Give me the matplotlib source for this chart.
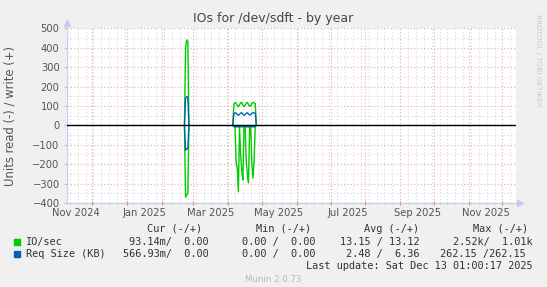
"""Munin style 'IOs for /dev/sdft - by year' chart."""

from datetime import datetime

import matplotlib
matplotlib.use("Agg")
import matplotlib.dates as mdates
import matplotlib.pyplot as plt
from matplotlib.transforms import blended_transform_factory

W, H = 547, 287
NAN = float("nan")

# ---- data (read values stored as magnitudes, drawn below zero) ----
# a NaN entry marks the stretch without samples between the two bursts
DATES = (["2025-02-21", "2025-02-22", "2025-02-23", "2025-02-24", "2025-02-25",
          "2025-03-15", "2025-04-05"]
         + [f"2025-04-{d:02d}" for d in range(6, 26)]
         + ["2025-04-26"])
IO_WRITE = ([0, 400, 440, 430, 0, NAN, 0]
            + [110, 118, 114, 102, 96, 106, 116, 118, 106, 96,
               104, 114, 118, 108, 98, 102, 114, 118, 116, 112]
            + [0])
IO_READ = ([0, 370, 358, 350, 0, NAN, 0]
           + [6, 8, 190, 220, 342, 10, 150, 230, 282, 8,
              10, 190, 250, 296, 8, 10, 200, 272, 180, 8]
           + [0])
REQ_WRITE = ([0, 140, 148, 145, 0, NAN, 0]
             + [60, 65, 63, 56, 52, 57, 63, 65, 58, 52,
                55, 62, 65, 59, 53, 55, 62, 65, 64, 62]
             + [0])
REQ_READ = ([0, 128, 122, 118, 0, NAN, 0]
            + [6, 7, 8, 7, 9, 6, 7, 8, 7, 6,
               7, 8, 7, 9, 6, 7, 8, 7, 8, 6]
            + [0])

X_START = datetime(2024, 11, 8, 1, 0)
X_END = datetime(2025, 12, 13, 1, 0)
Y_MIN, Y_MAX = -400, 500
MONTH_LABELS = ["Nov 2024", "Jan 2025", "Mar 2025", "May 2025",
                "Jul 2025", "Sep 2025", "Nov 2025"]
LABEL_DATES = ["2024-11-16", "2025-01-16", "2025-03-16", "2025-05-16",
               "2025-07-16", "2025-09-16", "2025-11-16"]

LEGEND_NAMES = ["IO/sec", "Req Size (KB)"]
LEGEND_COLORS = ["#00CC00", "#0066B3"]
CUR = ["93.14m/  0.00", "566.93m/  0.00"]
MIN = ["0.00 /  0.00", "0.00 /  0.00"]
AVG = ["13.15 / 13.12", "2.48 /  6.36"]
MAX = ["2.52k/  1.01k", "262.15 /262.15"]

GREEN, BLUE = LEGEND_COLORS
AXIS_COL = "#C8C8F0"
MAJOR_COL = "#F0A8A8"
MINOR_COL = "#D8D8D8"
TEXT_COL = "#555555"


def px(x, y):
    return x / W, 1 - y / H


fig = plt.figure(figsize=(W / 100, H / 100), dpi=100, facecolor="#F0F0F0")
left, top, right, bottom = 66.5, 28.3, 516.0, 203.0
ax = fig.add_axes([left / W, 1 - bottom / H, (right - left) / W, (bottom - top) / H])
ax.set_facecolor("white")

dates = [datetime.fromisoformat(d) for d in DATES]
ax.plot(dates, IO_WRITE, color=GREEN, lw=1.0, zorder=3)
ax.plot(dates, [-v for v in IO_READ], color=GREEN, lw=1.0, zorder=3)
ax.plot(dates, REQ_WRITE, color=BLUE, lw=1.0, zorder=4)
ax.plot(dates, [-v for v in REQ_READ], color=BLUE, lw=1.0, zorder=4)
ax.axhline(0, color="black", lw=1.0, zorder=5)

ax.set_xlim(X_START, X_END)
ax.set_ylim(Y_MIN, Y_MAX)

# grid
ax.xaxis.set_major_locator(mdates.MonthLocator())
ax.xaxis.set_minor_locator(mdates.WeekdayLocator(byweekday=mdates.MO))
ax.set_yticks(range(Y_MIN, Y_MAX + 1, 100))
ax.set_yticks(range(Y_MIN + 50, Y_MAX, 100), minor=True)
ax.grid(which="minor", color=MINOR_COL, ls=(0, (1, 2)), lw=0.8, zorder=1)
ax.grid(which="major", color=MAJOR_COL, ls=(0, (1, 2)), lw=0.8, zorder=2)
ax.set_xticklabels([])
ax.tick_params(axis="x", which="major", length=3, color="#E07070", direction="inout")
ax.tick_params(axis="x", which="minor", length=2, color="#C0C0C0", direction="inout")
ax.tick_params(axis="y", which="major", length=2, color="#C0C0C0",
               labelsize=7.2, labelcolor=TEXT_COL, pad=3)
ax.tick_params(axis="y", which="minor", length=0)

for s in ax.spines.values():
    s.set_visible(False)
ax.spines["left"].set_visible(True)
ax.spines["bottom"].set_visible(True)
ax.spines["left"].set_color(AXIS_COL)
ax.spines["bottom"].set_color(AXIS_COL)

# axis arrows
ax.plot([0], [1.03], marker="^", ms=4, color=AXIS_COL, transform=ax.transAxes, clip_on=False)
ax.plot([1.01], [0], marker=">", ms=4, color=AXIS_COL, transform=ax.transAxes, clip_on=False)

trans = blended_transform_factory(ax.transData, ax.transAxes)
for lab, d in zip(MONTH_LABELS, LABEL_DATES):
    ax.text(datetime.fromisoformat(d), -0.057, lab, transform=trans, ha="center",
            va="center", fontsize=7.2, color=TEXT_COL)

# titles
fig.text(*px(273.5, 18.5), "IOs for /dev/sdft - by year", ha="center", va="center",
         fontsize=9.0, color="#444444")
fig.text(*px(10, 116), "Units read (-) / write (+)", rotation=90, ha="center",
         va="center", fontsize=8.4, color=TEXT_COL)
fig.text(*px(538, 60), "RRDTOOL / TOBI OETIKER", rotation=-90, ha="center",
         va="center", fontsize=5.2, color="#C8C8C8")

# legend block
mono = dict(family="DejaVu Sans Mono", fontsize=7.4, color="#333333", va="center")
for h, x0 in zip(["Cur (-/+)", "Min (-/+)", "Avg (-/+)", "Max (-/+)"],
                 [147, 256, 364, 473]):
    fig.text(*px(x0, 228.5), h, ha="left", **mono)
for i, (name, col) in enumerate(zip(LEGEND_NAMES, LEGEND_COLORS)):
    y = 241.8 + i * 12.4
    fig.patches.append(plt.Rectangle(px(14, y + 3), 6 / W, 6 / H, color=col,
                                     transform=fig.transFigure))
    fig.text(*px(26, y), name, ha="left", **mono)
    fig.text(*px(209, y), CUR[i], ha="right", **mono)
    fig.text(*px(316, y), MIN[i], ha="right", **mono)
    fig.text(*px(420, y), AVG[i], ha="right", **mono)
    fig.text(*px(533 if i == 0 else 526, y), MAX[i], ha="right", **mono)
fig.text(*px(533, 266.3), "Last update: Sat Dec 13 01:00:17 2025", ha="right", **mono)
fig.text(*px(273, 279.5), "Munin 2.0.73", ha="center", va="center",
         fontsize=6.2, color="#B8B8B8")

fig.savefig("out.png", dpi=100, facecolor=fig.get_facecolor())
